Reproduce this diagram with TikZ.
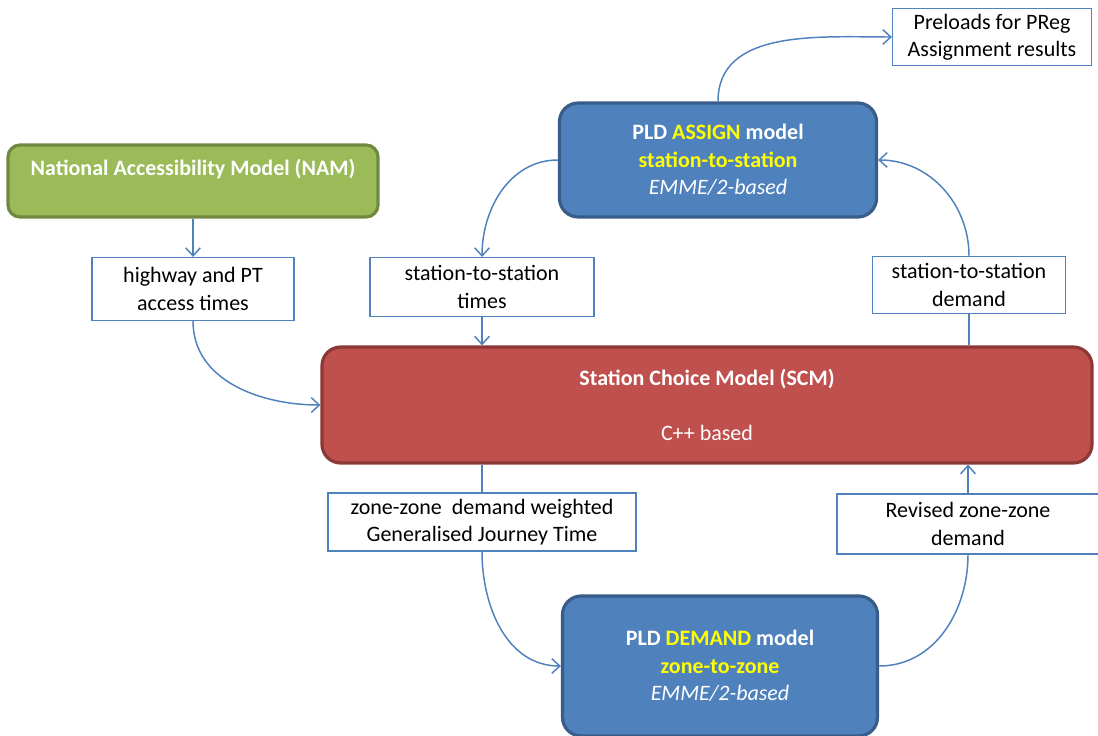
\documentclass[tikz,border=0pt]{standalone}
\usepackage{fontspec}
\setmainfont{Carlito}
\usetikzlibrary{arrows.meta}
\definecolor{linkblue}{HTML}{4F81BD}
\definecolor{modelblue}{HTML}{4F81BD}
\definecolor{modelblueedge}{HTML}{385D8A}
\definecolor{namgreen}{HTML}{9BBB59}
\definecolor{namgreenedge}{HTML}{71893F}
\definecolor{scmred}{HTML}{C0504D}
\definecolor{scmrededge}{HTML}{8C3836}
\definecolor{hiyellow}{HTML}{FFFF00}
\begin{document}
\begin{tikzpicture}[x=0.75pt,y=0.75pt,
  every node/.style={font=\fontsize{16.5}{20.5}\selectfont, align=center, inner sep=0pt},
  model/.style={draw, rounded corners=14pt, line width=2.4pt, text=white},
  bluemodel/.style={model, fill=modelblue, draw=modelblueedge},
  greenmodel/.style={model, fill=namgreen, draw=namgreenedge, rounded corners=9pt},
  redmodel/.style={model, fill=scmred, draw=scmrededge},
  datalabel/.style={draw=linkblue, fill=white, line width=0.9pt, text=black},
  link/.style={draw=linkblue, line width=1.1pt},
  arr/.style={link, -{Straight Barb[length=6pt, width=11pt, line width=1.1pt]}}
]
\clip (0,-735) rectangle (1098,0);
\fill[white] (0,-735) rectangle (1098,0);

% models
\node[bluemodel, minimum width=317*0.75pt, minimum height=114*0.75pt] (assign) at (718,-160)
  {\bfseries PLD \textcolor{hiyellow}{ASSIGN} model\\
   \bfseries\textcolor{hiyellow}{station-to-station}\\
   \itshape EMME/2-based};
\node[greenmodel, minimum width=370*0.75pt, minimum height=72*0.75pt] (nam) at (193,-181)
  {\bfseries National Accessibility Model (NAM)\\ \mbox{}};
\node[redmodel, minimum width=770*0.75pt, minimum height=116*0.75pt] (scm) at (707,-405)
  {\bfseries Station Choice Model (SCM)\\ \mbox{}\\ C++ based};
\node[bluemodel, minimum width=315*0.75pt, minimum height=140*0.75pt] (demand) at (720,-666)
  {\bfseries PLD \textcolor{hiyellow}{DEMAND} model\\
   \bfseries\textcolor{hiyellow}{zone-to-zone}\\
   \itshape EMME/2-based};

% data passed between models
\node[datalabel, minimum width=199*0.75pt, minimum height=57*0.75pt] (preload) at (992,-37)
  {Preloads for PReg\\ Assignment results};
\node[datalabel, minimum width=202*0.75pt, minimum height=63*0.75pt] (access) at (193,-289)
  {highway and PT\\ access times};
\node[datalabel, minimum width=224*0.75pt, minimum height=59*0.75pt] (sstimes) at (482,-287)
  {station-to-station\\ times};
\node[datalabel, minimum width=193*0.75pt, minimum height=57*0.75pt] (ssdemand) at (969,-285)
  {station-to-station\\ demand};
\node[datalabel, minimum width=308*0.75pt, minimum height=58*0.75pt] (gjt) at (482,-522)
  {zone-zone\ \ demand weighted\\ Generalised Journey Time};
\node[datalabel, minimum width=262*0.75pt, minimum height=60*0.75pt] (revised) at (968,-524)
  {Revised zone-zone\\ demand};

% connectors
\draw[arr] (assign.north) to[out=90, in=180] (preload.west);
\draw[arr] (assign.west) to[out=180, in=90] (sstimes.north);
\draw[arr] (sstimes.south) -- (sstimes.south |- scm.north);
\draw[arr] (nam.south) -- (access.north);
\draw[arr] (access.south) to[out=-90, in=180] (scm.west);
\draw[link] (ssdemand.south |- scm.north) -- (ssdemand.south);
\draw[arr] (ssdemand.north) to[out=90, in=0] (assign.east);
\draw[link] (gjt.north |- scm.south) -- (gjt.north);
\draw[arr] (gjt.south) to[out=-90, in=180] (demand.west);
\draw[link] (demand.east) to[out=0, in=-90] (revised.south);
\draw[arr] (revised.north) -- (revised.north |- scm.south);
\end{tikzpicture}
\end{document}
